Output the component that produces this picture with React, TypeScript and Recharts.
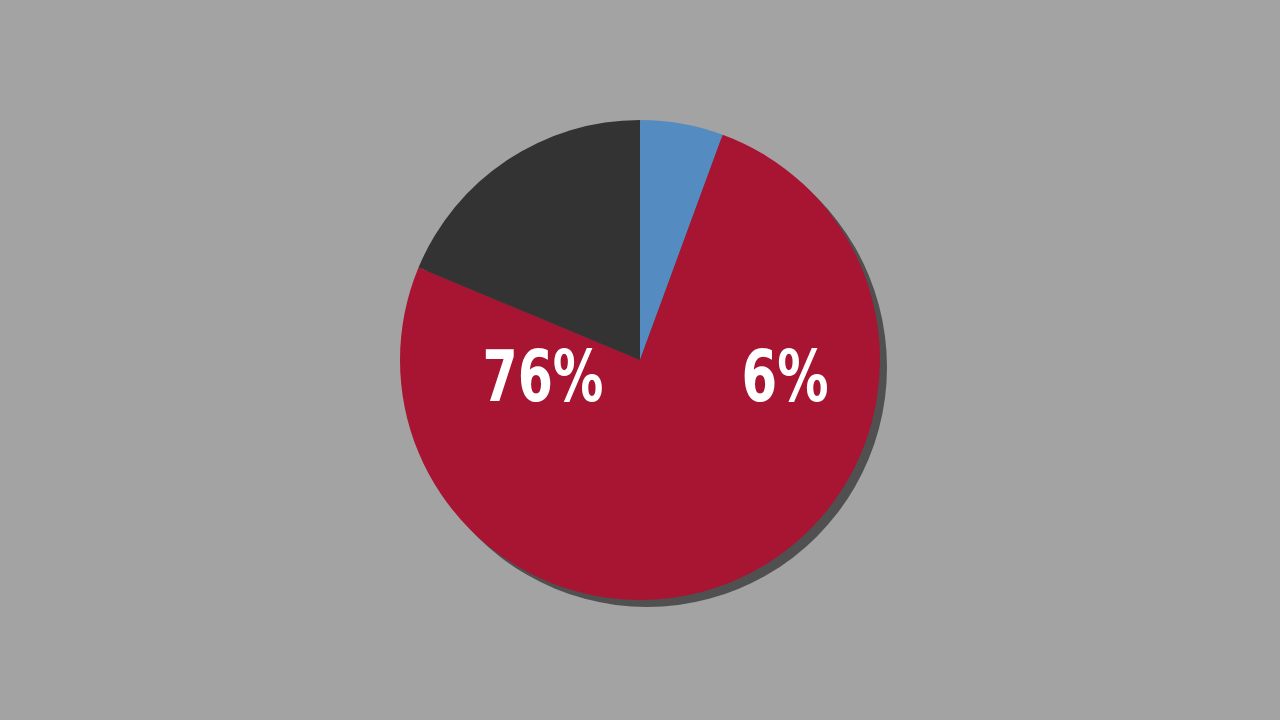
import React from "react";
import { PieChart, Pie, Cell } from "recharts";

const categories = ["Blue", "Red", "Dark"];
const values = [5.6, 75.7, 18.7];
const colors = ["#548bc0", "#a71532", "#333333"];
const labelTexts = ["6%", "76%", ""];

const data = categories.map((name, i) => ({ name, value: values[i] }));
const shadowData = [{ name: "shadow", value: 1 }];

const LABEL_DX = [145, -97, 0];

const renderLabel = (props: any) => {
  const { cx, cy, index } = props;
  const text = labelTexts[index];
  if (!text) return null;
  const w = text.length === 3 ? 121 : 87;
  return (
    <text
      key={`lbl-${index}`}
      x={cx + LABEL_DX[index]}
      y={cy + 41}
      textAnchor="middle"
      fill="#ffffff"
      fontFamily="'DejaVu Sans Condensed', 'DejaVu Sans', sans-serif"
      fontWeight="bold"
      fontSize={72}
      textLength={w}
      lengthAdjust="spacingAndGlyphs"
    >
      {text}
    </text>
  );
};

export default function App() {
  return (
    <div
      style={{
        position: "absolute",
        left: 0,
        top: 0,
        width: 1280,
        height: 720,
        background: "#a3a3a3",
      }}
    >
      <PieChart width={1280} height={720} margin={{ top: 0, right: 0, bottom: 0, left: 0 }}>
        <Pie
          data={shadowData}
          dataKey="value"
          cx={647}
          cy={367}
          outerRadius={240}
          startAngle={90}
          endAngle={-270}
          stroke="none"
          isAnimationActive={false}
        >
          <Cell fill="#505050" />
        </Pie>
        <Pie
          data={data}
          dataKey="value"
          cx={640}
          cy={360}
          outerRadius={240}
          startAngle={90}
          endAngle={-270}
          stroke="none"
          labelLine={false}
          label={renderLabel}
          isAnimationActive={false}
        >
          {data.map((d, i) => (
            <Cell key={d.name} fill={colors[i]} />
          ))}
        </Pie>
      </PieChart>
    </div>
  );
}
